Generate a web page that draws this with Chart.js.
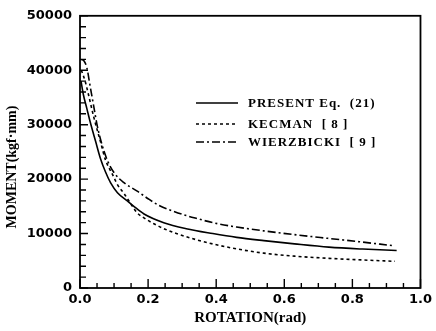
<!DOCTYPE html>
<html>
<head>
<meta charset="utf-8">
<script src="https://cdn.jsdelivr.net/npm/chart.js@4.4.1/dist/chart.umd.min.js"></script>
<style>
  html, body { margin: 0; padding: 0; background: #fff; }
  #wrap { width: 436px; height: 331px; }
</style>
</head>
<body>
<div id="wrap"><canvas id="myChart" width="436" height="331"></canvas></div>
<script>
// values
const seriesNames = ['PRESENT Eq.  (21)', 'KECMAN  [ 8 ]', 'WIERZBICKI  [ 9 ]'];

const presentRot = [0.003, 0.01, 0.02, 0.03, 0.046, 0.06, 0.075, 0.09, 0.11, 0.139, 0.16, 0.188, 0.246, 0.312, 0.39, 0.46, 0.54, 0.63, 0.731, 0.83, 0.93];
const presentMoment = [38000, 35500, 33000, 30500, 26900, 23800, 21300, 19300, 17500, 16000, 14900, 13600, 12000, 10900, 10000, 9300, 8700, 8100, 7500, 7150, 6900];

const kecmanRot = [0.004, 0.015, 0.025, 0.04, 0.06, 0.075, 0.095, 0.11, 0.13, 0.153, 0.168, 0.19, 0.217, 0.25, 0.283, 0.34, 0.39, 0.45, 0.54, 0.63, 0.731, 0.83, 0.925];
const kecmanMoment = [40000, 38000, 35500, 31500, 26900, 23500, 20900, 19000, 17300, 15100, 13800, 12800, 11800, 10800, 10000, 8900, 8100, 7300, 6400, 5850, 5450, 5150, 4900];

const wierzRot = [0.003, 0.012, 0.02, 0.03, 0.04, 0.05, 0.062, 0.08, 0.101, 0.13, 0.168, 0.2, 0.234, 0.27, 0.312, 0.347, 0.39, 0.46, 0.54, 0.63, 0.731, 0.82, 0.916];
const wierzMoment = [42000, 41700, 40500, 37000, 33500, 30000, 26900, 23500, 21100, 19300, 17800, 16400, 15100, 14200, 13300, 12700, 12000, 11200, 10500, 9800, 9100, 8500, 7800];

const xTicks = [0, 0.2, 0.4, 0.6, 0.8, 1.0];
const yTicks = [0, 10000, 20000, 30000, 40000, 50000];
const yTitle = 'MOMENT(kgf\u00B7mm)';

const toPoints = (xs, ys) => xs.map((x, i) => ({ x: x, y: ys[i] }));

const dashes = [[], [3, 3], [8, 3, 2, 3]];

// frame, inward tick marks, y title and the legend inside the plot
const framePlugin = {
  id: 'frame',
  afterDraw(chart) {
    const ctx = chart.ctx;
    const a = chart.chartArea;
    const xs = chart.scales.x, ys = chart.scales.y;
    ctx.save();
    ctx.strokeStyle = '#000';
    ctx.lineWidth = 1.8;
    ctx.strokeRect(a.left, a.top, a.right - a.left, a.bottom - a.top);

    ctx.lineWidth = 1.4;
    ctx.beginPath();
    for (let k = 0; k <= 25; k++) {
      const yp = ys.getPixelForValue(k * 2000);
      const len = k % 5 === 0 ? 8 : 6;
      ctx.moveTo(a.left, yp); ctx.lineTo(a.left + len, yp);
    }
    for (let k = 0; k <= 20; k++) {
      const xp = xs.getPixelForValue(k * 0.05);
      const len = k % 4 === 0 ? 9 : 5;
      ctx.moveTo(xp, a.bottom); ctx.lineTo(xp, a.bottom - len);
    }
    ctx.stroke();

    // y axis title, sits a bit below the middle in the original
    ctx.save();
    ctx.translate(12, 167);
    ctx.rotate(-Math.PI / 2);
    ctx.font = 'bold 14px "Liberation Serif", serif';
    ctx.textAlign = 'center';
    ctx.textBaseline = 'middle';
    ctx.fillStyle = '#000';
    ctx.fillText(yTitle, 0, 0);
    ctx.restore();

    // legend
    const rows = [103, 124, 142];
    ctx.font = 'bold 13px "Liberation Serif", serif';
    ctx.letterSpacing = '1px';
    ctx.textBaseline = 'middle';
    ctx.fillStyle = '#000';
    rows.forEach((y, i) => {
      ctx.lineWidth = 1.5;
      ctx.setLineDash(dashes[i]);
      ctx.beginPath();
      ctx.moveTo(196, y); ctx.lineTo(238, y);
      ctx.stroke();
      ctx.setLineDash([]);
      ctx.fillText(seriesNames[i], 248, y + 1);
    });
    ctx.restore();
  }
};

const ctx = document.getElementById('myChart').getContext('2d');
const myChart = new Chart(ctx, {
  type: 'line',
  data: {
    datasets: [
      { label: seriesNames[0], data: toPoints(presentRot, presentMoment), borderDash: dashes[0] },
      { label: seriesNames[1], data: toPoints(kecmanRot, kecmanMoment), borderDash: dashes[1] },
      { label: seriesNames[2], data: toPoints(wierzRot, wierzMoment), borderDash: dashes[2] }
    ].map(d => Object.assign(d, {
      borderColor: '#000',
      borderWidth: 1.6,
      pointRadius: 0,
      fill: false,
      cubicInterpolationMode: 'monotone'
    }))
  },
  options: {
    responsive: false,
    animation: false,
    devicePixelRatio: 1,
    layout: { padding: { top: 13, right: 11, left: 0, bottom: 0 } },
    plugins: { legend: { display: false }, tooltip: { enabled: false } },
    scales: {
      x: {
        type: 'linear',
        min: 0, max: 1,
        afterBuildTicks: s => { s.ticks = xTicks.map(v => ({ value: v })); },
        afterFit: s => { s.height = 43; },
        grid: { display: false, drawTicks: false },
        border: { display: false },
        ticks: {
          padding: 4,
          color: '#000',
          maxRotation: 0,
          font: { family: '"DejaVu Sans", sans-serif', size: 13, weight: 'bold' },
          callback: v => v.toFixed(1)
        },
        title: {
          display: true,
          text: 'ROTATION(rad)',
          color: '#000',
          padding: { top: 0, bottom: 4 },
          font: { family: '"Liberation Serif", serif', size: 15, weight: 'bold' }
        }
      },
      y: {
        min: 0, max: 50000,
        afterBuildTicks: s => { s.ticks = yTicks.map(v => ({ value: v })); },
        afterFit: s => { s.width = 80; },
        grid: { display: false, drawTicks: false },
        border: { display: false },
        ticks: {
          padding: 8,
          color: '#000',
          font: { family: '"DejaVu Sans", sans-serif', size: 13, weight: 'bold' },
          callback: v => String(v)
        },
        title: { display: false }
      }
    }
  },
  plugins: [framePlugin]
});
</script>
</body>
</html>
